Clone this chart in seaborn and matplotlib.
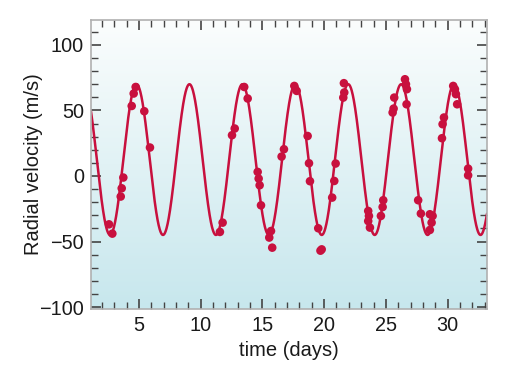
import numpy as np
import pandas as pd
import matplotlib
matplotlib.use("Agg")
import matplotlib.pyplot as plt
from matplotlib.colors import LinearSegmentedColormap
from matplotlib.ticker import MultipleLocator
import seaborn as sns

# observed radial velocities (days, m/s)
time_days = [2.56, 2.83, 3.51, 3.59, 3.72, 4.40, 4.56, 4.72, 5.42, 5.88,
             11.55, 11.77, 12.53, 12.75, 13.52, 13.80, 14.61, 14.69, 14.77, 14.88,
             15.55, 15.69, 15.79, 16.55, 16.74, 17.58, 17.77, 18.66, 18.77, 18.85,
             19.52, 19.80, 19.70, 20.65, 20.82, 20.93, 21.55, 21.63, 21.60,
             23.57, 23.63, 23.57, 23.71, 24.60, 24.74, 24.79, 25.55, 25.63, 25.68,
             26.55, 26.63, 26.71, 26.68, 27.62, 27.84, 28.57, 28.79, 28.71, 28.57,
             29.60, 29.71, 29.55, 30.46, 30.60, 30.68, 30.78, 31.67, 31.67]
velocity = [-36.9, -44.0, -15.7, -9.4, -1.2, 53.4, 62.9, 67.9, 49.4, 21.7,
            -42.7, -35.6, 31.1, 36.2, 67.9, 59.1, 3.1, -2.0, -7.1, -22.4,
            -47.0, -42.0, -54.7, 14.8, 20.4, 68.7, 64.9, 30.5, 9.7, -4.0,
            -39.9, -56.0, -57.0, -16.5, -3.8, 9.5, 59.8, 63.7, 70.8,
            -26.7, -30.5, -34.4, -39.4, -30.5, -23.7, -18.5, 48.4, 51.4, 59.8,
            73.8, 70.0, 66.2, 54.7, -18.5, -28.7, -29.2, -30.5, -35.6, -41.2,
            39.5, 44.6, 28.8, 68.7, 66.2, 62.4, 54.7, 5.6, 0.5]

# fitted orbit parameters
period = 4.29
peak_time = 4.79
amplitude = 57.5
offset = 12.5

xlim = (1.1, 33.2)
ylim = (-101.5, 119)

obs = pd.DataFrame({"t": time_days, "v": velocity})
t_fit = np.linspace(xlim[0], xlim[1], 1500)
fit = pd.DataFrame({"t": t_fit,
                    "v": offset + amplitude * np.cos(2 * np.pi * (t_fit - peak_time) / period)})

sns.set_style("white")
plt.rcParams["font.family"] = ["Liberation Sans", "DejaVu Sans"]

fig = plt.figure(figsize=(5.12, 3.85), dpi=100)
ax = fig.add_axes([91 / 512, 1 - 309 / 385, (487 - 91) / 512, (309 - 20) / 385])

cmap = LinearSegmentedColormap.from_list("bg", ["#fbfdfd", "#c7e7ed"])
grad = np.linspace(0, 1, 256).reshape(-1, 1)
ax.imshow(grad, cmap=cmap, aspect="auto", extent=[xlim[0], xlim[1], ylim[0], ylim[1]],
          origin="upper", zorder=0)

red = "#c8103e"
sns.lineplot(data=fit, x="t", y="v", ax=ax, color=red, linewidth=1.8, zorder=2)
sns.scatterplot(data=obs, x="t", y="v", ax=ax, color=red, s=38, edgecolor="none",
                linewidth=0, zorder=3)

ax.set_xlim(*xlim)
ax.set_ylim(*ylim)
ax.xaxis.set_major_locator(MultipleLocator(5))
ax.xaxis.set_minor_locator(MultipleLocator(1))
ax.yaxis.set_major_locator(MultipleLocator(50))
ax.yaxis.set_minor_locator(MultipleLocator(10))
ax.tick_params(which="both", direction="in", top=True, right=True, bottom=True, left=True,
               color="#444444", labelsize=14.3, labelcolor="#1a1a1a", pad=5)
ax.tick_params(which="major", length=7, width=1.2)
ax.tick_params(which="minor", length=5, width=1.0)
for s in ax.spines.values():
    s.set_color("#b0b0b0")
    s.set_linewidth(1.2)

ax.set_xlabel("time (days)", fontsize=14.5, color="#1a1a1a", labelpad=4)
ax.set_ylabel("Radial velocity (m/s)", fontsize=14.5, color="#1a1a1a")
ax.yaxis.set_label_coords(-0.121, 0.5)

fig.savefig("out.png", dpi=100)
